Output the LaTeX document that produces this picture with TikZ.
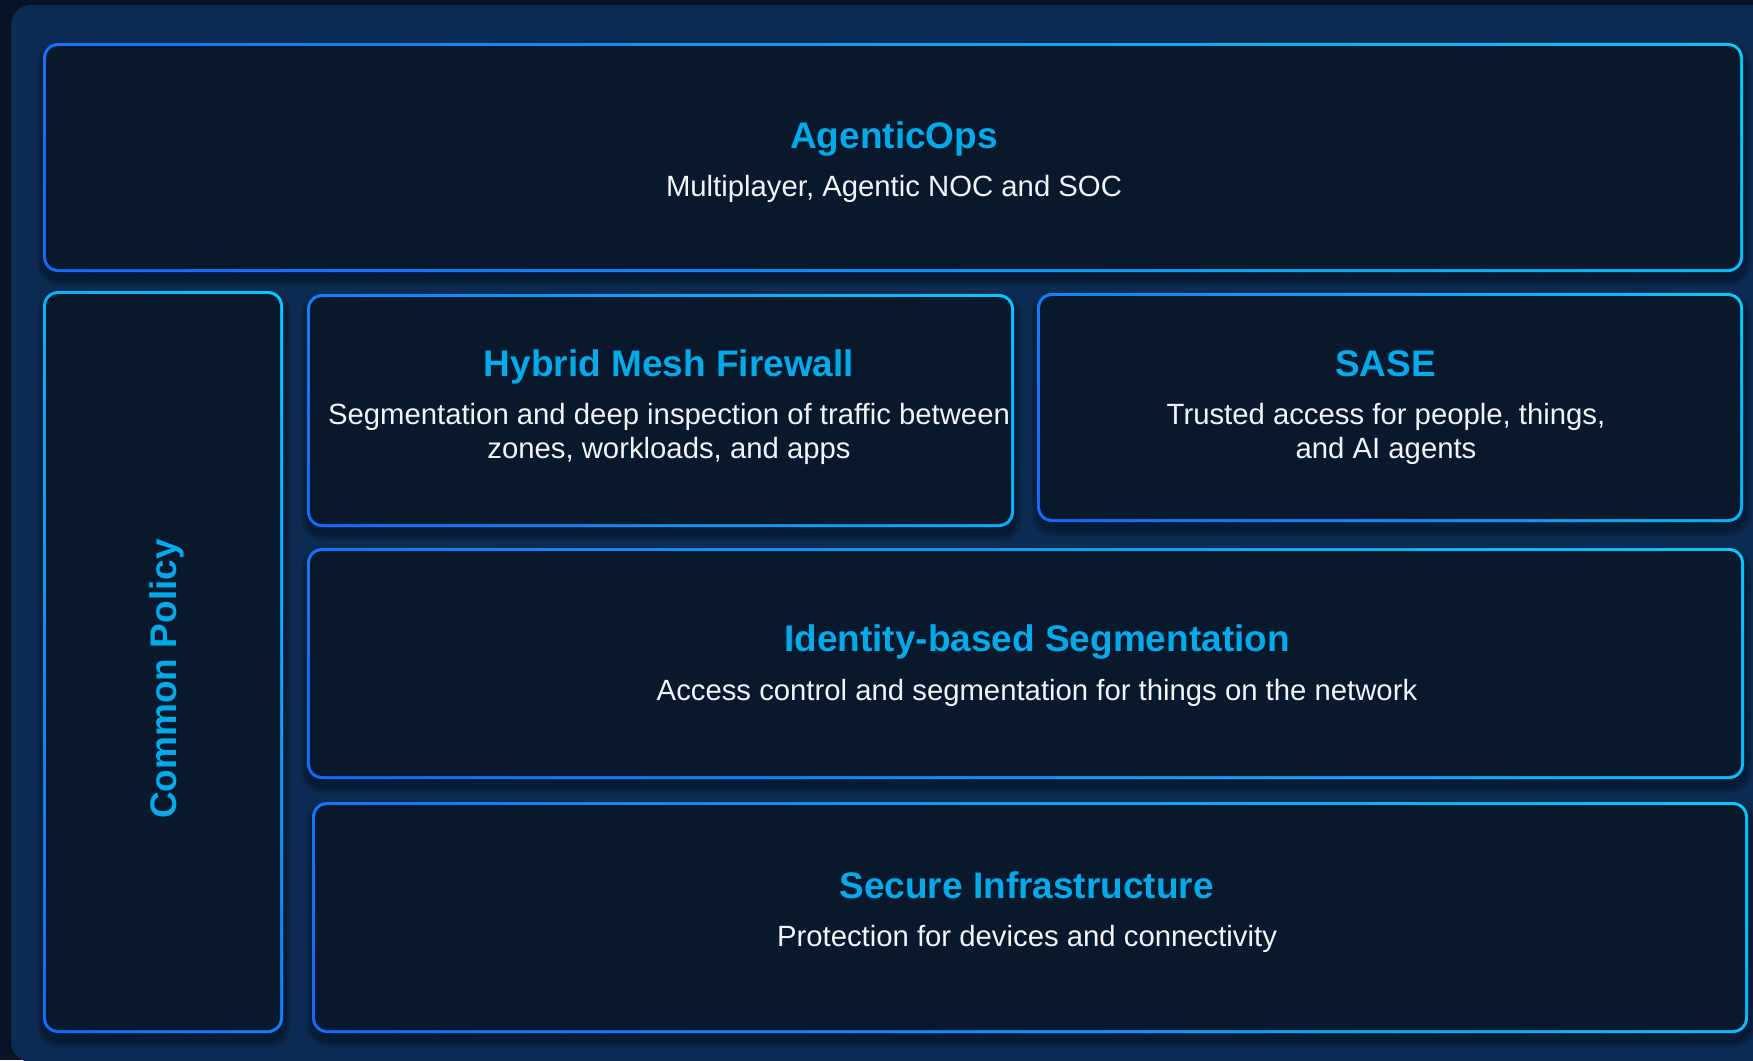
\documentclass[tikz,border=0pt]{standalone}
\usepackage{fontspec}
\setmainfont{Liberation Sans}
\definecolor{bgcol}{RGB}{6,20,38}
\definecolor{panelcol}{RGB}{13,43,82}
\definecolor{boxfill}{RGB}{8,24,45}
\definecolor{bordblue}{RGB}{22,104,255}
\definecolor{bordcyan}{RGB}{0,200,255}
\definecolor{titlecol}{RGB}{0,169,231}
\definecolor{subcol}{RGB}{242,245,248}

% soft drop shadow under a box
\newcommand\boxshadow[4]{%
  \foreach \s in {1,...,8}{%
    \fill[black, opacity=0.045, rounded corners={15+\s}]
      ({#1-\s+1},{#2-\s+7}) rectangle ({#3+\s+1},{#4+\s+7});
  }%
}
% rounded box with a 45 degree blue-to-cyan gradient border
\newcommand\glowbox[5]{%
  \pgfmathsetmacro\bw{#4-#2}%
  \pgfmathsetmacro\bh{#5-#3}%
  \pgfmathsetmacro\gl{(\bw+\bh)/sqrt(2)}%
  \pgfmathsetmacro\gs{\gl/40}%
  \pgfmathsetmacro\gh{\gl/2}%
  \begin{scope}
    \clip[rounded corners=15] (#2,#3) rectangle (#4,#5);
    \begin{scope}[shift={({(#2+#4)/2},{(#3+#5)/2})}, rotate=45]
      \foreach \k in {0,...,39}{%
        \pgfmathsetmacro\pc{\k*100/39}%
        \pgfmathsetmacro\xa{-\gh+\k*\gs-0.6}%
        \pgfmathsetmacro\xb{-\gh+(\k+1)*\gs+0.6}%
        \fill[bordcyan!\pc!bordblue] (\xa,-\gh) rectangle (\xb,\gh);
      }%
    \end{scope}
  \end{scope}
  \fill[boxfill, rounded corners=12] ({#2+3},{#3+3}) rectangle ({#4-3},{#5-3});
  \coordinate (#1) at ({(#2+#4)/2},{(#3+#5)/2});
}

\tikzset{
  titletext/.style={anchor=base, inner sep=0pt, text=titlecol,
    font=\bfseries\fontsize{37}{40}\selectfont},
  subtext/.style={anchor=base, inner sep=0pt, text=subcol,
    font=\fontsize{29.3}{34}\selectfont},
}

\begin{document}
\begin{tikzpicture}[x=1pt, y=-1pt]
  \useasboundingbox (0,0) rectangle (1753,1060);
  \fill[bgcol] (0,0) rectangle (1753,1060);
  \fill[panelcol, rounded corners=20] (11,5) rectangle (1790,1062);

  % shadows
  \boxshadow{43}{43}{1743}{272}
  \boxshadow{43}{291}{283}{1033}
  \boxshadow{307}{294}{1014}{527}
  \boxshadow{1037}{293}{1743}{522}
  \boxshadow{307}{548}{1744}{779}
  \boxshadow{312}{802}{1748}{1033}

  % boxes
  \glowbox{agentic}{43}{43}{1743}{272}
  \glowbox{policy}{43}{291}{283}{1033}
  \glowbox{hmf}{307}{294}{1014}{527}
  \glowbox{sase}{1037}{293}{1743}{522}
  \glowbox{idseg}{307}{548}{1744}{779}
  \glowbox{infra}{312}{802}{1748}{1033}

  % texts
  \node[titletext] (agentic-title) at (894,148.3) {AgenticOps};
  \node[subtext] (agentic-sub) at (894,196.7) {Multiplayer, Agentic NOC and SOC};

  \node[titletext, rotate=90] (policy-title) at (176.7,679) {Common Policy};

  \node[titletext] (hmf-title) at (669,376.7) {Hybrid Mesh Firewall};
  \node[subtext] (hmf-sub1) at (669,424.5) {Segmentation and deep inspection of traffic between};
  \node[subtext] (hmf-sub2) at (669,458.5) {zones, workloads, and apps};

  \node[titletext] (sase-title) at (1385.5,376.7) {SASE};
  \node[subtext] (sase-sub1) at (1386,424.5) {Trusted access for people, things,};
  \node[subtext] (sase-sub2) at (1386,458.5) {and AI agents};

  \node[titletext] (idseg-title) at (1037,651.7) {Identity-based Segmentation};
  \node[subtext] (idseg-sub) at (1037,700) {Access control and segmentation for things on the network};

  \node[titletext] (infra-title) at (1026.6,898.3) {Secure Infrastructure};
  \node[subtext] (infra-sub) at (1027,946.7) {Protection for devices and connectivity};
\end{tikzpicture}
\end{document}
